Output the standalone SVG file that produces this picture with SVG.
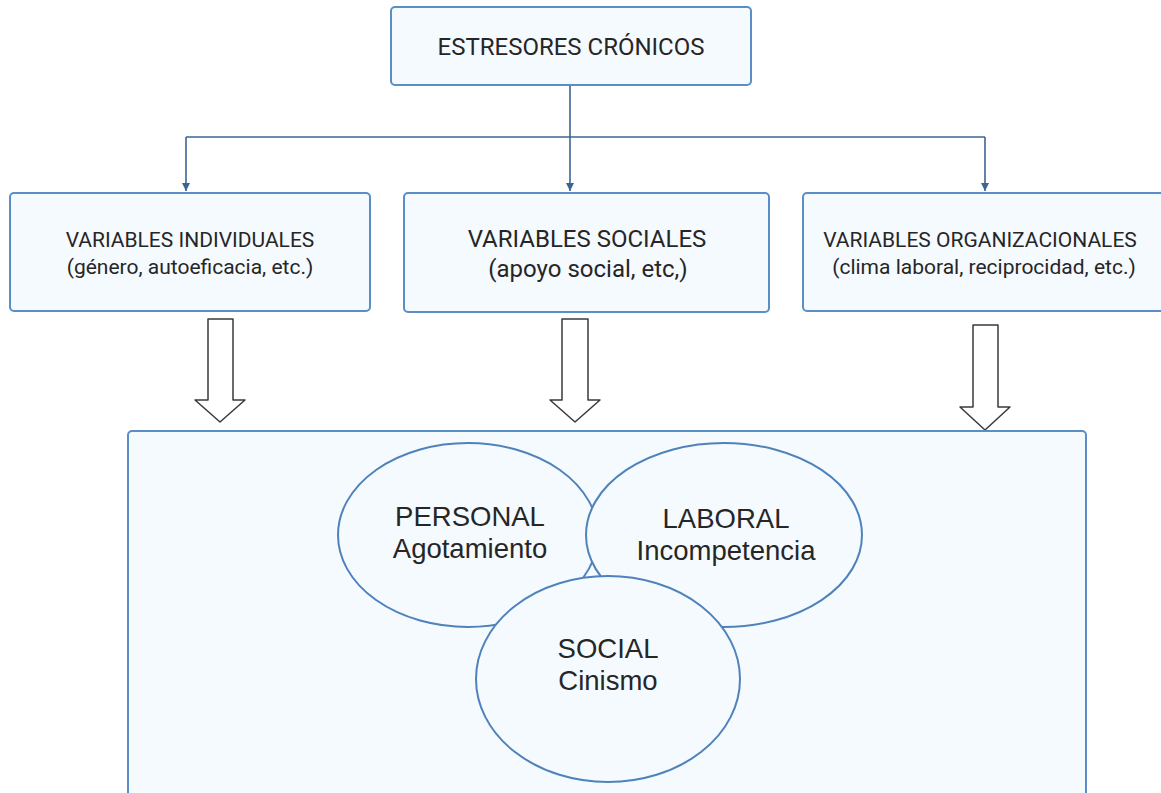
<svg xmlns="http://www.w3.org/2000/svg" width="1161" height="793" viewBox="0 0 1161 793">
<defs>
<style>
.box{fill:#f5faff;stroke:#5b8dc6;stroke-width:2}
.ell{fill:#f5faff;stroke:#4f82bb;stroke-width:2}
.t{font-family:Roboto,"Liberation Sans",sans-serif;fill:#262626;text-anchor:middle}
.e{font-family:"Liberation Sans",Arial,sans-serif;fill:#262626;text-anchor:middle;font-size:27.5px}
.conn{fill:none;stroke:#3c6492;stroke-width:1.6}
.barrow{fill:#ffffff;stroke:#3a3a3a;stroke-width:1.5;stroke-linejoin:round}
</style>
<marker id="ah" viewBox="0 0 10 10" refX="10" refY="5" markerWidth="8" markerHeight="8" markerUnits="userSpaceOnUse" orient="auto">
<path d="M0,0 L10,5 L0,10 z" fill="#3c6492"/>
</marker>
</defs>
<rect width="1161" height="793" fill="#ffffff"/>
<g id="connectors">
<path class="conn" d="M570,85 V137"/>
<path class="conn" d="M186,137 H985"/>
<path class="conn" d="M186,137 V191" marker-end="url(#ah)"/>
<path class="conn" d="M570,137 V191" marker-end="url(#ah)"/>
<path class="conn" d="M985,137 V191" marker-end="url(#ah)"/>
<path class="barrow" d="M208,319 H233 V400 H245 L220,422 L195,400 H208 Z"/>
<path class="barrow" d="M562,319 H588 V400 H600 L575,422 L550,400 H562 Z"/>
<path class="barrow" d="M973,325 H998 V407 H1010 L985,430 L960,407 H973 Z"/>
</g>
<g id="estresores">
<rect class="box" x="391" y="7" width="360" height="78" rx="4"/>
<text class="t" x="571" y="55" font-size="24">ESTRESORES CRÓNICOS</text>
</g>
<g id="individuales">
<rect class="box" x="10" y="193" width="360" height="118" rx="4"/>
<text class="t" x="190" y="247" font-size="21">VARIABLES INDIVIDUALES</text>
<text class="t" x="190" y="274" font-size="21">(género, autoeficacia, etc.)</text>
</g>
<g id="sociales">
<rect class="box" x="404" y="193" width="365" height="119" rx="4"/>
<text class="t" x="587" y="247" font-size="24">VARIABLES SOCIALES</text>
<text class="t" x="588" y="277" font-size="24">(apoyo social, etc,)</text>
</g>
<g id="organizacionales">
<rect class="box" x="803" y="193" width="362" height="118" rx="4"/>
<text class="t" x="980" y="247" font-size="21">VARIABLES ORGANIZACIONALES</text>
<text class="t" x="984" y="274" font-size="21">(clima laboral, reciprocidad, etc.)</text>
</g>
<g id="burnout">
<rect class="box" x="128" y="431" width="958" height="380" rx="4"/>
</g>
<g id="personal">
<ellipse class="ell" cx="468" cy="535" rx="130" ry="92"/>
<text class="e" x="470" y="526">PERSONAL</text>
<text class="e" x="470" y="558">Agotamiento</text>
</g>
<g id="laboral">
<ellipse class="ell" cx="724" cy="535" rx="138" ry="92"/>
<text class="e" x="726" y="528">LABORAL</text>
<text class="e" x="726" y="560">Incompetencia</text>
</g>
<g id="social">
<ellipse class="ell" cx="608" cy="679" rx="132" ry="103"/>
<text class="e" x="608" y="658">SOCIAL</text>
<text class="e" x="608" y="690">Cinismo</text>
</g>
</svg>
